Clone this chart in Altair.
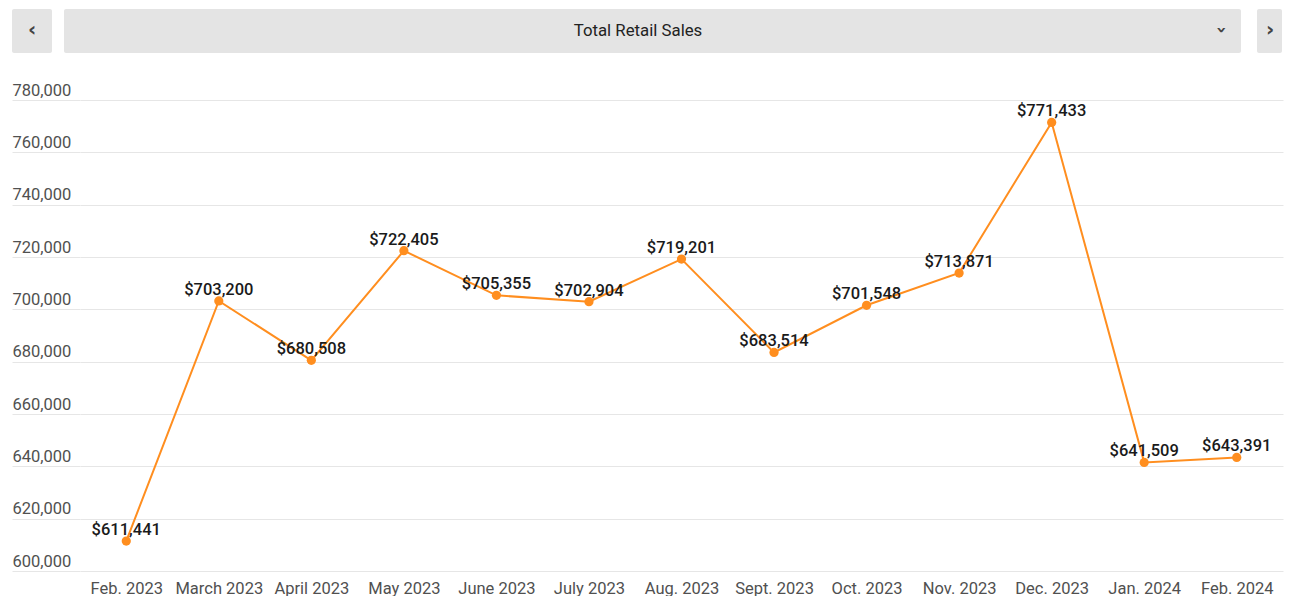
import altair as alt
import pandas as pd

months = ["Feb. 2023", "March 2023", "April 2023", "May 2023", "June 2023", "July 2023",
          "Aug. 2023", "Sept. 2023", "Oct. 2023", "Nov. 2023", "Dec. 2023", "Jan. 2024", "Feb. 2024"]
sales = [611441, 703200, 680508, 722405, 705355, 702904, 719201, 683514, 701548, 713871,
         771433, 641509, 643391]
y_ticks = [600000, 620000, 640000, 660000, 680000, 700000, 720000, 740000, 760000, 780000]
header_title = "Total Retail Sales"

df = pd.DataFrame({"month": months, "sales": sales})
df["label"] = ["$" + f"{v:,}" for v in sales]

W, H = 1203, 471
ORANGE = "#FF8E1F"
FONT = "Roboto"
AXIS_COLOR = "#505050"

x_enc = alt.X("month:N", sort=months,
              scale=alt.Scale(type="point", padding=0.5),
              axis=alt.Axis(title=None, labelFont=FONT, labelFontSize=16.5, labelColor=AXIS_COLOR,
                            labelPadding=9, ticks=False, domain=False, grid=False,
                            labelAngle=0))
y_scale = alt.Scale(domain=[600000, 780000], nice=False, zero=False)
y_enc = alt.Y("sales:Q", scale=y_scale,
              axis=alt.Axis(title=None, values=y_ticks, format=",.0f", labelFont=FONT,
                            labelFontSize=16.5, labelColor=AXIS_COLOR, labelAlign="left",
                            labelBaseline="alphabetic", labelOffset=-5, labelPadding=0,
                            ticks=True, tickSize=68, tickColor="#e6e6e6", tickWidth=1,
                            grid=True, gridColor="#e6e6e6", domain=False))

base = alt.Chart(df)
line = base.mark_line(color=ORANGE, strokeWidth=2).encode(x=x_enc, y=y_enc)
pts = base.mark_circle(color=ORANGE, size=85, opacity=1).encode(x=x_enc, y=y_enc)
labels = base.mark_text(font=FONT, fontSize=16.5, fontWeight=500, color="#1a1a1a",
                        baseline="alphabetic", dy=-6).encode(x=x_enc, y=y_enc, text="label:N")

# header bar (UI chrome)
hdr = pd.DataFrame({"x": [-68, -16, 1177], "x2": [-28, 1161, 1202]})
header = alt.Chart(hdr).mark_rect(color="#e4e4e4", cornerRadius=2).encode(
    x=alt.X("x:Q", scale=None), x2="x2:Q",
    y=alt.value(-91), y2=alt.value(-47))
title = alt.Chart(pd.DataFrame({"t": [header_title]})).mark_text(
    font=FONT, fontSize=16.8, color="#222222", align="center", baseline="middle").encode(
    text="t:N", x=alt.value(558), y=alt.value(-69))
arrows = pd.DataFrame({"s": ["‹", "›"], "x": [-48, 1190]})
arrow_marks = alt.Chart(arrows).mark_text(
    font="DejaVu Sans", fontSize=20, fontWeight="bold", color="#444444",
    align="center", baseline="middle").encode(
    text="s:N", x=alt.X("x:Q", scale=None), y=alt.value(-70))
chev = alt.Chart(pd.DataFrame({"s": ["›"]})).mark_text(
    font="DejaVu Sans", fontSize=18, fontWeight="bold", color="#444444", angle=90,
    align="center", baseline="middle").encode(
    text="s:N", x=alt.value(1141), y=alt.value(-70))

chart = alt.layer(line, pts, labels, header, title, arrow_marks, chev).properties(
    width=W, height=H,
    autosize=alt.AutoSizeParams(type="none"),
    padding={"left": 72, "top": 92, "right": 7, "bottom": 25},
    background="white",
).configure_view(stroke=None)

chart.save("out.html", embed_options={"renderer": "svg", "actions": False})
